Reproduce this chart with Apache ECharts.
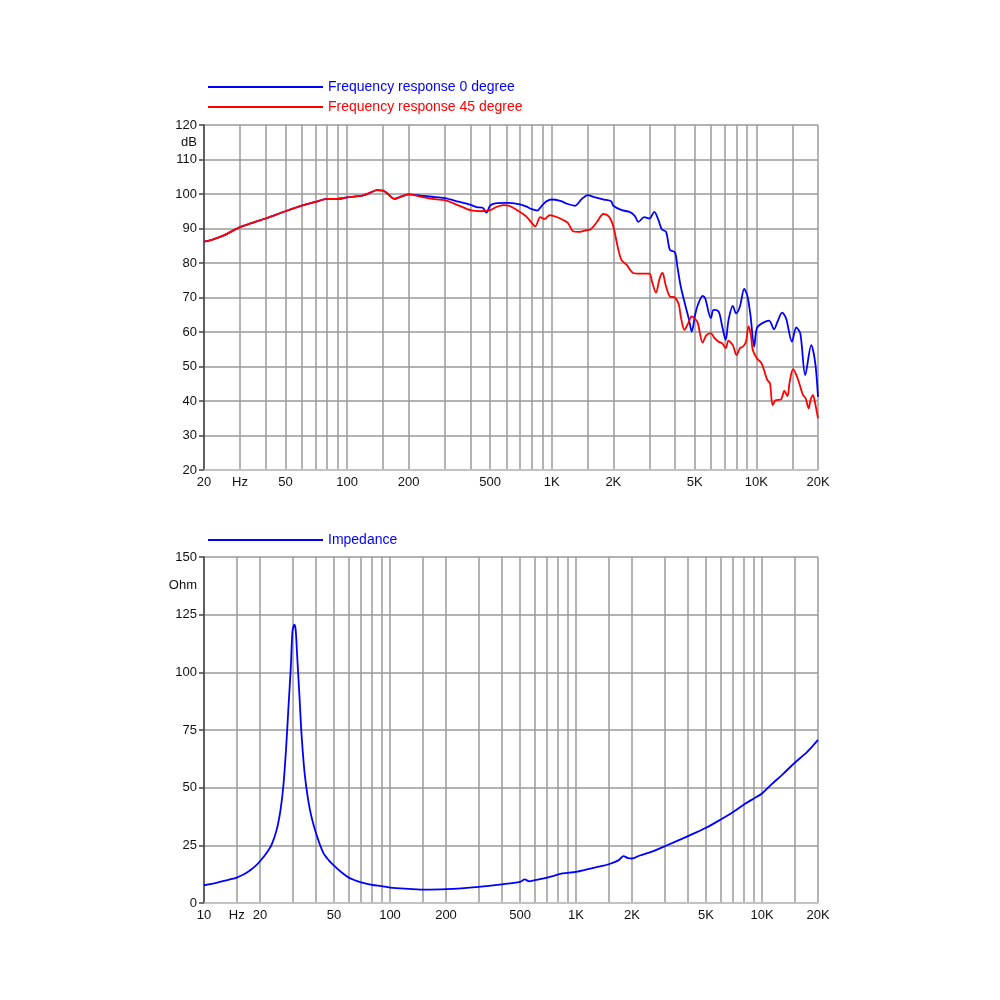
<!DOCTYPE html>
<html>
<head>
<meta charset="utf-8">
<title>Frequency response / Impedance</title>
<script src="https://cdn.jsdelivr.net/npm/echarts@6/dist/echarts.min.js"></script>
<style>
  html, body { margin: 0; padding: 0; background: #fff; }
  #chart { width: 1000px; height: 1000px; }
</style>
</head>
<body>
<div id="chart"></div>
<script>
// frequency response 0 degree (Hz / dB)
const freq0 = [20, 22, 25, 30, 35, 40, 50, 60, 70, 80, 90, 100, 110, 120, 130, 140, 150, 160, 170, 185,
  200, 230, 260, 300, 350, 400, 430, 460, 480, 500, 530, 600, 700, 750, 800, 850, 900, 950, 1000, 1100,
  1200, 1300, 1400, 1500, 1600, 1800, 1950, 2000, 2200, 2400, 2550, 2650, 2830, 3000, 3170, 3320, 3450, 3620,
  3780, 4000, 4110, 4270, 4510, 4690, 4830, 5020, 5180, 5460, 5620, 5990, 6180, 6540, 6810, 7080, 7310, 7670,
  7960, 8310, 8720, 9050, 9370, 9750, 10050, 10640, 11530, 12200, 12680, 13360, 13960, 14920, 15660, 16390,
  17320, 18540, 19400, 20000]
const db0 = [86.2, 86.8, 88.0, 90.4, 91.8, 92.9, 95.0, 96.6, 97.7, 98.6, 98.6, 99.0, 99.3, 99.6, 100.4, 101.1, 101.0, 99.8, 98.6, 99.3,
  99.9, 99.5, 99.2, 98.8, 97.8, 96.9, 96.2, 96.0, 94.6, 96.6, 97.3, 97.4, 97.0, 96.4, 95.6, 95.2, 96.8, 98.0, 98.4, 98.0,
  97.1, 96.6, 98.5, 99.7, 99.2, 98.4, 97.9, 96.6, 95.3, 94.8, 93.6, 91.9, 93.3, 92.9, 94.8, 92.5, 89.8, 89.0,
  83.8, 83.1, 79.0, 73.2, 67.4, 63.5, 60.1, 65.0, 67.9, 70.5, 69.8, 64.0, 66.4, 65.9, 61.6, 57.7, 63.5, 67.6,
  65.4, 67.4, 72.5, 70.3, 64.5, 55.8, 61.1, 62.5, 63.3, 60.8, 63.0, 65.6, 64.0, 57.2, 61.3, 59.6,
  47.5, 56.2, 50.9, 41.2]

// frequency response 45 degree (Hz / dB)
const freq45 = [20, 22, 25, 30, 35, 40, 50, 60, 70, 80, 90, 100, 110, 120, 130, 140, 150, 160, 170, 185,
  200, 230, 260, 300, 350, 400, 450, 500, 540, 580, 620, 700, 750, 800, 830, 880, 920, 980, 1050, 1150,
  1200, 1270, 1350, 1450, 1550, 1650, 1790, 1900, 2000, 2090, 2190, 2320, 2500, 2700, 3000, 3090, 3230, 3370,
  3480, 3600, 3780, 4000, 4180, 4270, 4450, 4640, 4830, 5040, 5180, 5460, 5700, 6000, 6250, 6540, 6810, 7080,
  7300, 7670, 8000, 8310, 8600, 8900, 9150, 9400, 9600, 10050, 10600, 11300, 11650, 12000, 12400, 13200,
  13700, 14200, 14500, 15100, 15900, 16900, 17400, 18000, 18400, 18900, 19300, 20000]
const db45 = [86.2, 86.8, 88.0, 90.4, 91.8, 92.9, 95.0, 96.6, 97.7, 98.6, 98.6, 99.0, 99.3, 99.6, 100.4, 101.1, 101.0, 99.8, 98.6, 99.3,
  99.9, 99.2, 98.6, 98.2, 96.7, 95.3, 95.0, 95.3, 96.3, 96.8, 96.6, 94.8, 93.5, 91.6, 90.6, 93.3, 92.7, 93.9, 93.4, 92.3,
  91.6, 89.2, 89.0, 89.4, 89.8, 91.6, 94.2, 93.5, 90.6, 85.3, 80.9, 79.5, 77.1, 76.9, 76.9, 74.6, 71.4, 75.6,
  77.1, 73.7, 70.3, 70.0, 67.9, 64.5, 60.6, 62.5, 64.5, 63.7, 62.5, 56.9, 59.1, 59.6, 58.2, 57.2, 56.7, 55.3,
  57.5, 56.2, 53.3, 55.3, 55.8, 57.2, 61.6, 59.1, 54.8, 52.4, 50.9, 46.1, 45.1, 38.8, 40.2, 40.5,
  42.9, 41.4, 45.1, 49.2, 46.6, 41.7, 40.8, 37.9, 40.3, 41.7, 39.8, 35.0]

// impedance (Hz / Ohm)
const freqZ = [10, 11, 12, 13, 14, 15, 16, 17, 18, 19, 20, 21.7, 23.1, 24.6, 25.8, 26.7, 27.6, 28.4, 29.3, 29.9,
  30.6, 31.1, 31.7, 32.6, 33.5, 34.9, 37.1, 40, 43.8, 47, 50, 55, 60, 65, 70, 80, 90, 100, 120, 150, 200,
  300, 400, 500, 530, 560, 600, 700, 850, 1000, 1350, 1500, 1700, 1800, 1900, 2000, 2200, 2450, 3000, 4000,
  5000, 6000, 7000, 8000, 9000, 10000, 11100, 13000, 15000, 17500, 20000]
const ohmZ = [7.7, 8.3, 9.0, 9.7, 10.3, 11.0, 12.0, 13.2, 14.6, 16.2, 18.1, 21.7, 25.3, 31.8, 40.5, 50.6, 66.5, 83.8, 102.6, 117.8,
  120.7, 118.5, 106.9, 89.6, 72.3, 54.9, 40.5, 30.3, 21.7, 18.4, 16.2, 13.2, 11.0, 9.8, 8.9, 7.9, 7.3, 6.7, 6.2, 5.8, 6.0,
  7.0, 8.1, 9.2, 10.2, 9.4, 9.9, 11.0, 12.8, 13.5, 15.9, 16.8, 18.6, 20.3, 19.5, 19.3, 20.6, 21.7, 24.6, 29.0,
  32.6, 36.2, 39.5, 42.7, 45.2, 47.5, 51.0, 56.0, 60.8, 65.5, 70.7]

// grid lines and labels
const gridFreqTop = [20, 30, 40, 50, 60, 70, 80, 90, 100, 150, 200, 300, 400, 500, 600, 700, 800, 900,
  1000, 1500, 2000, 3000, 4000, 5000, 6000, 7000, 8000, 9000, 10000, 15000, 20000]
const gridFreqBottom = [10, 15].concat(gridFreqTop)
const labelFreqTop = [20, 30, 50, 100, 200, 500, 1000, 2000, 5000, 10000, 20000]
const labelFreqBottom = [10, 15, 20, 50, 100, 200, 500, 1000, 2000, 5000, 10000, 20000]
const dbTicks = [20, 30, 40, 50, 60, 70, 80, 90, 100, 110, 120]
const ohmTicks = [0, 25, 50, 75, 100, 125, 150]

const FONT = '"Liberation Sans", Arial, Helvetica, sans-serif'
const GRID_COLOR = '#9a9a9a'

const pairs = (xs, ys) => xs.map((x, i) => [x, ys[i]])

// 30 / 15 Hz slot carries the unit label
const freqLabel = (v, hzAt) => {
  const f = Math.round(v)
  if (f === hzAt) return 'Hz'
  return f >= 1000 ? f / 1000 + 'K' : String(f)
}

const makeXAxis = (gridIndex, min, gridVals, labelVals, hzAt) => ({
  type: 'log',
  logBase: 10,
  gridIndex: gridIndex,
  min: min,
  max: 20000,
  axisLine: { show: true, lineStyle: { color: '#c8c8c8', width: 1.5 } },
  axisTick: { show: false, customValues: gridVals },
  splitLine: { show: true, lineStyle: { color: GRID_COLOR, width: 1.5 } },
  axisLabel: {
    customValues: labelVals,
    formatter: (v) => freqLabel(v, hzAt),
    color: '#111',
    fontSize: 13,
    fontFamily: FONT,
    margin: 6,
  },
})

const makeYAxis = (gridIndex, min, max, ticks, unitAt, unit) => ({
  type: 'value',
  gridIndex: gridIndex,
  min: min,
  max: max,
  axisLine: { show: true, lineStyle: { color: '#444', width: 1.5 } },
  axisTick: { show: true, length: 5, customValues: ticks, lineStyle: { color: '#444', width: 1.5 } },
  splitLine: { show: true, lineStyle: { color: GRID_COLOR, width: 1.5 } },
  axisLabel: {
    customValues: ticks.concat([unitAt]),
    formatter: (v) => (v === unitAt ? unit : String(v)),
    color: '#111',
    fontSize: 13,
    fontFamily: FONT,
    margin: 7,
  },
})

const lineSeries = (name, xi, data, color, z) => ({
  name: name,
  type: 'line',
  xAxisIndex: xi,
  yAxisIndex: xi,
  data: data,
  showSymbol: false,
  smooth: 0.3,
  color: color,
  lineStyle: { color: color, width: 1.8 },
  z: z,
})

const chart = echarts.init(document.getElementById('chart'))

const option = {
  animation: false,
  backgroundColor: '#fff',
  legend: [
    {
      orient: 'vertical',
      left: 203,
      top: 75,
      itemWidth: 115,
      itemHeight: 2,
      itemGap: 6,
      icon: 'rect',
      selectedMode: false,
      textStyle: { fontSize: 14, fontFamily: FONT },
      data: [
        { name: 'Frequency response 0 degree', textStyle: { color: '#0000ff' } },
        { name: 'Frequency response 45 degree', textStyle: { color: '#ff0000' } },
      ],
    },
    {
      orient: 'vertical',
      left: 203,
      top: 528,
      itemWidth: 115,
      itemHeight: 2,
      icon: 'rect',
      selectedMode: false,
      textStyle: { fontSize: 14, fontFamily: FONT },
      data: [{ name: 'Impedance', textStyle: { color: '#0000ff' } }],
    },
  ],
  grid: [
    { left: 204, right: 182, top: 125, height: 345 },
    { left: 204, right: 182, top: 557, height: 346 },
  ],
  xAxis: [
    makeXAxis(0, 20, gridFreqTop, labelFreqTop, 30),
    makeXAxis(1, 10, gridFreqBottom, labelFreqBottom, 15),
  ],
  yAxis: [
    makeYAxis(0, 20, 120, dbTicks, 115, 'dB'),
    makeYAxis(1, 0, 150, ohmTicks, 137.5, 'Ohm'),
  ],
  series: [
    lineSeries('Frequency response 0 degree', 0, pairs(freq0, db0), '#0000ff', 3),
    lineSeries('Frequency response 45 degree', 0, pairs(freq45, db45), '#ff0000', 4),
    lineSeries('Impedance', 1, pairs(freqZ, ohmZ), '#0000ff', 3),
  ],
}

chart.setOption(option)
window.addEventListener('resize', () => {
  chart.resize()
})
</script>
</body>
</html>
